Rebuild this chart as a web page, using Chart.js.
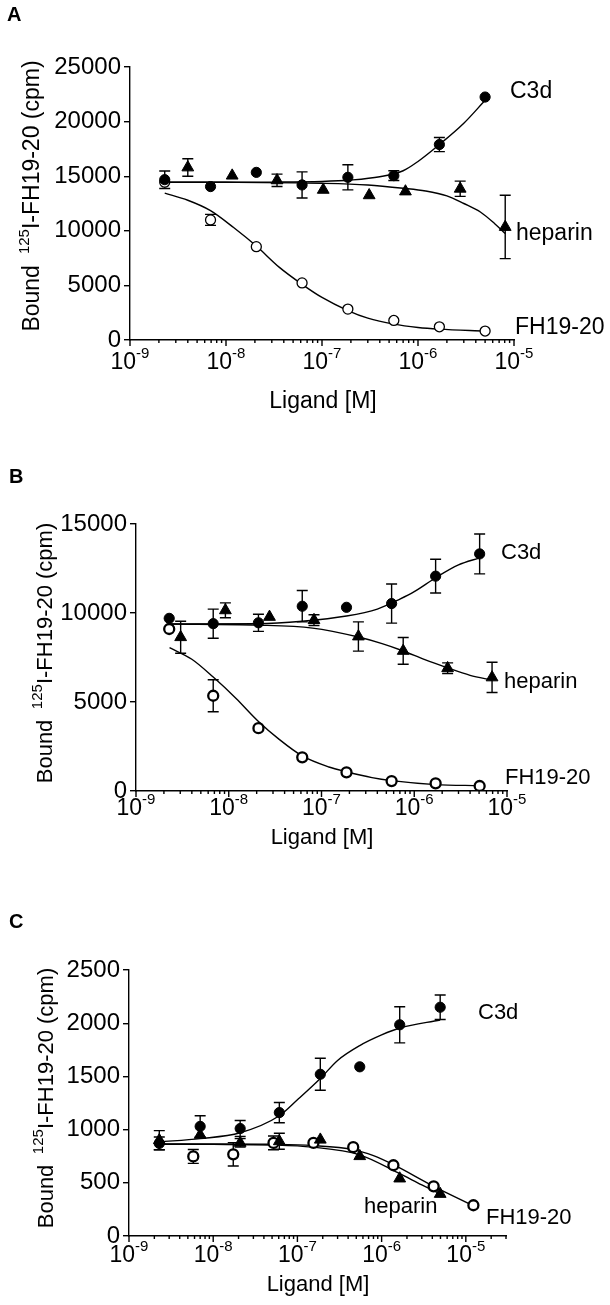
<!DOCTYPE html>
<html>
<head>
<meta charset="utf-8">
<script src="https://cdn.jsdelivr.net/npm/chart.js@4.4.1/dist/chart.umd.min.js"></script>
<style>
  html, body { margin: 0; padding: 0; background: #fff; }
  #wrap { position: relative; width: 610px; height: 1305px; }
  canvas { position: absolute; left: 0; }
</style>
</head>
<body>
<div id="wrap">
  <canvas id="chartA" width="610" height="430" style="top:0"></canvas>
  <canvas id="chartB" width="610" height="430" style="top:430px"></canvas>
  <canvas id="chartC" width="610" height="445" style="top:860px"></canvas>
</div>
<script>
// ---- panel A ----
const aX = [2.3e-9, 6.9e-9, 2.07e-8, 6.2e-8, 1.86e-7, 5.6e-7, 1.67e-6, 5e-6];
const aC3d = [14680, 14050, 15350, 14200, 14900, 15050, 17900, 22250];
const aC3dErr = [800, 0, 0, 1200, 1150, 450, 650, 0];
const aFh = [14450, 11000, 8550, 5230, 2830, 1790, 1210, 820];
const aFhErr = [0, 500, 0, 0, 0, 0, 0, 0];
const aHepX = [4e-9, 1.16e-8, 3.4e-8, 1.03e-7, 3.1e-7, 7.4e-7, 2.75e-6, 8.1e-6];
const aHep = [15800, 15050, 14620, 13750, 13250, 13600, 13850, 10350];
const aHepErr = [800, 0, 570, 0, 0, 0, 700, 2900];

const aC3dFitX = [2.3e-9, 1e-8, 3e-8, 1e-7, 2e-7, 4e-7, 7e-7, 1e-6, 1.67e-6, 3e-6, 5e-6];
const aC3dFitY = [14450, 14450, 14460, 14520, 14650, 14950, 15500, 16350, 17900, 19850, 21950];
const aHepFitX = [2.3e-9, 1e-8, 1e-7, 3e-7, 7e-7, 1.2e-6, 2e-6, 3e-6, 4.5e-6, 6.3e-6, 8.1e-6];
const aHepFitY = [14450, 14440, 14350, 14200, 13900, 13650, 13200, 12500, 11700, 10650, 9750];
const aFhFitX = [2.3e-9, 4e-9, 6.9e-9, 1.2e-8, 2.07e-8, 3.6e-8, 6.2e-8, 1e-7, 1.86e-7, 3e-7, 5.6e-7, 1e-6, 1.67e-6, 5e-6];
const aFhFitY = [13450, 12800, 11850, 10300, 8600, 6650, 5100, 3900, 2700, 2000, 1450, 1150, 1000, 820];

// ---- panel B ----
const bX = [2.28e-9, 6.8e-9, 2.09e-8, 6.2e-8, 1.86e-7, 5.7e-7, 1.7e-6, 5.07e-6];
const bC3d = [9700, 9400, 9450, 10380, 10320, 10530, 12070, 13320];
const bC3dErr = [0, 820, 480, 880, 0, 1100, 950, 1120];
const bFh = [9100, 5350, 3530, 1890, 1050, 560, 430, 280];
const bFhErr = [0, 900, 0, 0, 0, 0, 0, 0];
const bHepX = [3.03e-9, 9.2e-9, 2.75e-8, 8.3e-8, 2.5e-7, 7.6e-7, 2.29e-6, 6.9e-6];
const bHep = [8640, 10150, 9780, 9600, 8680, 7870, 6900, 6380];
const bHepErr = [900, 420, 0, 300, 820, 750, 300, 850];

const bC3dFitX = [2.28e-9, 2e-8, 6.2e-8, 1.86e-7, 4e-7, 7e-7, 1e-6, 1.7e-6, 3e-6, 5.07e-6];
const bC3dFitY = [9380, 9400, 9540, 9830, 10220, 10780, 11200, 11980, 12700, 13100];
const bHepFitX = [2.28e-9, 2e-8, 8e-8, 2.5e-7, 4.5e-7, 7.5e-7, 1.3e-6, 2.2e-6, 4e-6, 6.9e-6];
const bHepFitY = [9380, 9320, 9150, 8650, 8280, 7880, 7380, 6950, 6500, 6230];
const bFhFitX = [2.3e-9, 4e-9, 6.8e-9, 1.2e-8, 2.05e-8, 3.5e-8, 6.2e-8, 1.2e-7, 1.86e-7, 3.5e-7, 5.7e-7, 1.7e-6, 5.1e-6];
const bFhFitY = [8050, 7400, 6400, 5200, 3950, 2900, 1970, 1350, 1080, 750, 580, 360, 300];

// ---- panel C ----
const cX = [2.29e-9, 7e-9, 2.09e-8, 6.1e-8, 1.87e-7, 5.5e-7, 1.64e-6, 4.96e-6];
const cC3d = [870, 1030, 1010, 1160, 1520, 1590, 1985, 2150];
const cC3dErr = [60, 100, 75, 95, 150, 0, 170, 115];
const cHep = [900, 950, 875, 890, 905, 750, 540, 395];
const cHepErr = [90, 0, 40, 75, 0, 0, 0, 0];
const cFhX = [5.8e-9, 1.73e-8, 5.2e-8, 1.55e-7, 4.6e-7, 1.38e-6, 4.15e-6, 1.23e-5];
const cFh = [748, 768, 875, 875, 835, 665, 467, 289];
const cFhErr = [65, 110, 65, 0, 0, 0, 0, 0];

const cC3dFitX = [2.29e-9, 7e-9, 2.09e-8, 6.1e-8, 1e-7, 1.87e-7, 3e-7, 5.5e-7, 1e-6, 1.64e-6, 4.96e-6];
const cC3dFitY = [885, 915, 970, 1130, 1280, 1480, 1650, 1790, 1890, 1955, 2030];
const cHepFitX = [2.29e-9, 1e-8, 5e-8, 1.5e-7, 5.4e-7, 1.6e-6, 3e-6, 4.96e-6];
const cHepFitY = [862, 861, 855, 835, 765, 590, 480, 395];
const cFhFitX = [2.29e-9, 1e-8, 5e-8, 1.5e-7, 4.6e-7, 8e-7, 1.38e-6, 4.15e-6, 1.23e-5];
const cFhFitY = [866, 866, 862, 850, 812, 755, 670, 467, 285];

const FONT = '"Liberation Sans", Arial, Helvetica, sans-serif';

const toPoints = (xs, ys, errs = []) => xs.map((x, i) => ({ x, y: ys[i], err: errs[i] || 0 }));

const filledCircle = (data) => ({
  data, errorBars: true, order: 0, showLine: false,
  pointStyle: "circle", pointRadius: 5.1, borderWidth: 1,
  backgroundColor: "#000", borderColor: "#000",
});
const triangle = (data) => ({
  data, errorBars: true, order: 1, showLine: false,
  pointStyle: "triangle", pointRadius: 6.8, borderWidth: 1,
  backgroundColor: "#000", borderColor: "#000",
});
const openCircle = (data, lw) => ({
  data, errorBars: true, order: 2, showLine: false,
  pointStyle: "circle", pointRadius: 5, borderWidth: lw,
  backgroundColor: "#fff", borderColor: "#000",
});
const fitLine = (data) => ({
  data, order: 3, showLine: true, pointRadius: 0,
  borderColor: "#000", borderWidth: 1.4, cubicInterpolationMode: "monotone", fill: false,
});

// vertical error bars with caps, under the markers
const errorBarPlugin = {
  id: "errorBars",
  beforeDatasetsDraw(chart) {
    const { ctx, scales: { x, y } } = chart;
    ctx.save();
    ctx.strokeStyle = "#000";
    ctx.lineWidth = 1.4;
    chart.data.datasets.forEach((ds) => {
      if (!ds.errorBars) return;
      ds.data.forEach((p) => {
        if (!p.err) return;
        const px = x.getPixelForValue(p.x);
        const top = y.getPixelForValue(p.y + p.err);
        const bot = y.getPixelForValue(p.y - p.err);
        ctx.beginPath();
        ctx.moveTo(px, top); ctx.lineTo(px, bot);
        ctx.moveTo(px - 5.5, top); ctx.lineTo(px + 5.5, top);
        ctx.moveTo(px - 5.5, bot); ctx.lineTo(px + 5.5, bot);
        ctx.stroke();
      });
    });
    ctx.restore();
  },
};

const drawRich = (ctx, parts, cx, cy) => {
  let total = 0;
  parts.forEach(([t, size]) => {
    ctx.font = `${size}px ${FONT}`;
    total += ctx.measureText(t).width;
  });
  let x = cx - total / 2;
  parts.forEach(([t, size, dy]) => {
    ctx.font = `${size}px ${FONT}`;
    ctx.fillText(t, x, cy + dy);
    x += ctx.measureText(t).width;
  });
};

// log ticks, superscript labels, titles and curve names
const figurePlugin = {
  id: "figure",
  afterDraw(chart, args, opts) {
    const { ctx, chartArea, scales: { x } } = chart;
    const fs = opts.fontSize;
    ctx.save();
    ctx.fillStyle = "#000";
    ctx.strokeStyle = "#000";
    ctx.lineWidth = 1.4;
    ctx.textAlign = "left";
    ctx.textBaseline = "middle";

    const base = chartArea.bottom;
    ctx.beginPath();
    for (let k = -9; k <= -4; k++) {
      for (let m = 1; m <= 9; m++) {
        const v = m * Math.pow(10, k);
        if (v < x.min * 0.999 || v > x.max * 1.001) continue;
        const px = x.getPixelForValue(v);
        ctx.moveTo(px, base);
        ctx.lineTo(px, base + (m === 1 ? 6 : 3));
      }
    }
    ctx.stroke();

    for (let k = -9; k <= -4; k++) {
      const v = Math.pow(10, k);
      if (v < x.min * 0.999 || v > x.max * 1.001) continue;
      drawRich(ctx, [["10", 23, 0], [String(k), 15, -9]], x.getPixelForValue(v), base + opts.tickOffset);
    }

    ctx.font = `bold 20px ${FONT}`;
    ctx.fillText(opts.letter, opts.letterPos[0], opts.letterPos[1]);

    drawRich(ctx, [["Ligand [M]", fs, 0]], opts.xTitle[0], opts.xTitle[1]);

    ctx.save();
    ctx.translate(opts.yTitle[0], opts.yTitle[1]);
    ctx.rotate(-Math.PI / 2);
    drawRich(ctx, [["Bound \u2009", fs, 0], ["125", 15, -8], ["I-FH19-20 (cpm)", fs, 0]], 0, 0);
    ctx.restore();

    ctx.font = `${fs}px ${FONT}`;
    opts.labels.forEach(([t, lx, ly]) => ctx.fillText(t, lx, ly));
    ctx.restore();
  },
};

const makePanel = (id, o) =>
  new Chart(document.getElementById(id).getContext("2d"), {
    type: "scatter",
    data: { datasets: o.datasets },
    options: {
      responsive: false,
      animation: false,
      events: [],
      layout: { padding: { top: o.area.top, right: 610 - o.area.right, left: 0, bottom: 0 } },
      scales: {
        x: {
          type: "logarithmic",
          min: 1e-9,
          max: o.xMax,
          grid: { display: false },
          border: { display: true, color: "#000", width: 1.4 },
          ticks: { display: false },
          afterFit: (s) => { s.height = o.height - o.area.bottom; },
        },
        y: {
          type: "linear",
          min: 0,
          max: o.yMax,
          grid: { display: true, drawOnChartArea: false, drawTicks: true, tickLength: 6, color: "#000", lineWidth: 1.4 },
          border: { display: true, color: "#000", width: 1.4 },
          ticks: {
            stepSize: o.yStep,
            padding: 3,
            color: "#000",
            font: { family: FONT, size: 24 },
            callback: (v) => String(v),
          },
          afterFit: (s) => { s.width = o.area.left; },
        },
      },
      plugins: {
        legend: { display: false },
        tooltip: { enabled: false },
        figure: o.figure,
      },
    },
    plugins: [errorBarPlugin, figurePlugin],
  });

makePanel("chartA", {
  height: 430,
  area: { left: 130, right: 514, top: 67, bottom: 340 },
  xMax: 1e-5, yMax: 25000, yStep: 5000,
  datasets: [
    filledCircle(toPoints(aX, aC3d, aC3dErr)),
    triangle(toPoints(aHepX, aHep, aHepErr)),
    openCircle(toPoints(aX, aFh, aFhErr), 1.3),
    fitLine(toPoints(aC3dFitX, aC3dFitY)),
    fitLine(toPoints(aHepFitX, aHepFitY)),
    fitLine(toPoints(aFhFitX, aFhFitY)),
  ],
  figure: {
    letter: "A", letterPos: [7, 15], yTitle: [33, 196], xTitle: [323, 402], tickOffset: 23, fontSize: 23,
    labels: [["C3d", 510, 92], ["heparin", 516, 234], ["FH19-20", 515, 328]],
  },
});

makePanel("chartB", {
  height: 430,
  area: { left: 136, right: 507, top: 94, bottom: 361 },
  xMax: 1e-5, yMax: 15000, yStep: 5000,
  datasets: [
    filledCircle(toPoints(bX, bC3d, bC3dErr)),
    triangle(toPoints(bHepX, bHep, bHepErr)),
    openCircle(toPoints(bX, bFh, bFhErr), 2.3),
    fitLine(toPoints(bC3dFitX, bC3dFitY)),
    fitLine(toPoints(bHepFitX, bHepFitY)),
    fitLine(toPoints(bFhFitX, bFhFitY)),
  ],
  figure: {
    letter: "B", letterPos: [9, 47], yTitle: [46, 223], xTitle: [322, 408], tickOffset: 18, fontSize: 22,
    labels: [["C3d", 501, 123], ["heparin", 504, 252], ["FH19-20", 505, 348]],
  },
});

makePanel("chartC", {
  height: 445,
  area: { left: 129, right: 506, top: 110, bottom: 376 },
  xMax: 3e-5, yMax: 2500, yStep: 500,
  datasets: [
    filledCircle(toPoints(cX, cC3d, cC3dErr)),
    triangle(toPoints(cX, cHep, cHepErr)),
    openCircle(toPoints(cFhX, cFh, cFhErr), 2.3),
    fitLine(toPoints(cC3dFitX, cC3dFitY)),
    fitLine(toPoints(cHepFitX, cHepFitY)),
    fitLine(toPoints(cFhFitX, cFhFitY)),
  ],
  figure: {
    letter: "C", letterPos: [9, 62], yTitle: [47, 238], xTitle: [318, 425], tickOffset: 20, fontSize: 22,
    labels: [["C3d", 478, 153], ["heparin", 364, 347], ["FH19-20", 486, 358]],
  },
});
</script>
</body>
</html>
